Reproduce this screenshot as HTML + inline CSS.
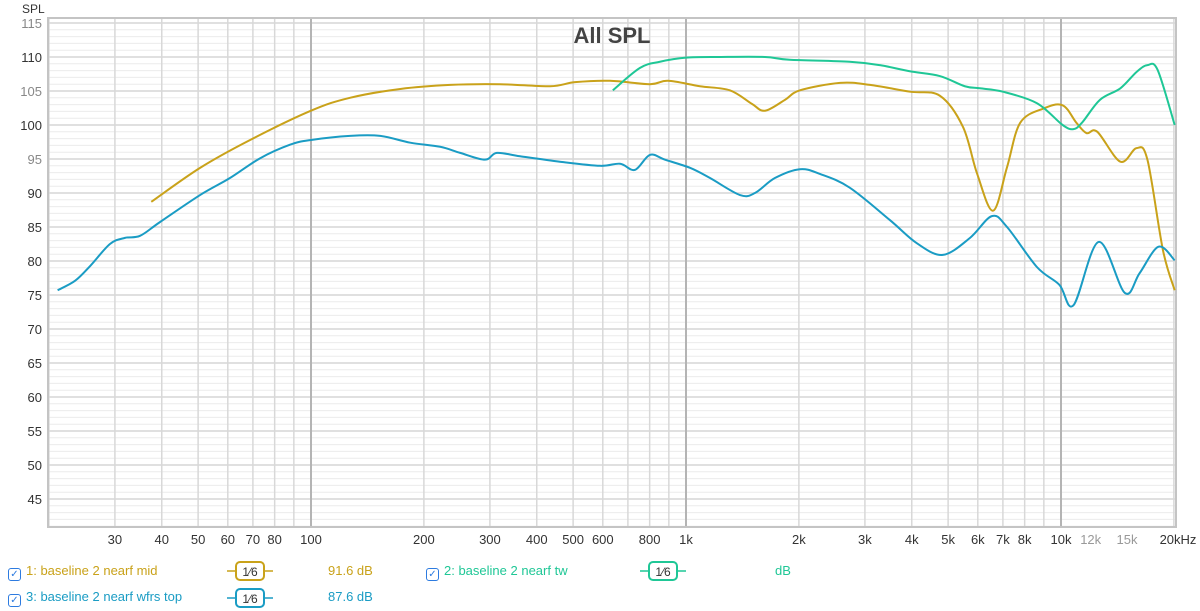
<!DOCTYPE html>
<html><head><meta charset="utf-8"><style>
body{margin:0;background:#fff;font-family:"Liberation Sans",sans-serif;}
#wrap{position:relative;width:1200px;height:611px;overflow:hidden}
.leg{position:absolute;font-size:13px;white-space:nowrap}
.cb{display:inline-block;width:11px;height:11px;border:1.5px solid #2d7be0;border-radius:3px;vertical-align:-2px;margin-right:5px;font-size:10px;line-height:11px;text-align:center;color:#2d7be0}
</style></head><body><div id="wrap">
<svg id="chart" width="1200" height="611" style="position:absolute;left:0;top:0"></svg>
</div>
<script>
const xTickLabels=["30","40","50","60","70","80","100","200","300","400","500","600","800","1k","2k","3k","4k","5k","6k","7k","8k","10k","12k","15k","20kHz"];
const xTickFreqs=[30,40,50,60,70,80,100,200,300,400,500,600,800,1000,2000,3000,4000,5000,6000,7000,8000,10000,12000,15000,20000];
const yTickValues=[115,110,105,100,95,90,85,80,75,70,65,60,55,50,45];
const midFreq=[37.5,50.6,68.8,100,127,173,235,319,434,506,627,801,895,1089,1309,1499,1624,1836,2013,2575,3097,3954,4753,5480,5970,6590,7180,7780,8960,10100,11000,11700,12500,14400,15900,17000,18700,20100];
const midDb=[88.7,93.7,97.8,102.1,104.0,105.3,105.9,106.0,105.7,106.3,106.5,106.0,106.5,105.7,105.1,103.1,102.1,103.7,105.1,106.2,105.9,104.9,104.3,99.7,92.9,87.4,93.8,100.3,102.4,102.9,100.3,98.8,99.0,94.6,96.6,94.9,81.6,75.7];
const twFreq=[638,754,852,1000,1232,1624,1890,2730,3290,3950,4750,5540,6080,7000,8630,10100,10800,11400,12700,14400,15900,17000,18100,20100];
const twDb=[105.1,108.4,109.3,109.9,110.0,110.0,109.6,109.3,108.8,107.9,107.2,105.7,105.4,104.9,103.2,100.0,99.4,100.4,103.7,105.4,107.8,108.8,108.1,100.0];
const wfFreq=[21.1,23.5,25.8,29.1,31.9,35.0,39.5,50.6,60.8,73.1,87.9,100,127,153,184,221,250,291,313,361,461,590,667,731,801,879,1025,1159,1393,1527,1726,2013,2276,2730,3500,4130,4840,5720,6540,7180,8630,9900,10800,12600,14800,16200,18200,20100];
const wfDb=[75.7,77.1,79.3,82.5,83.4,83.7,85.7,89.7,92.2,95.1,97.1,97.8,98.4,98.4,97.4,96.8,95.9,94.9,95.9,95.4,94.6,94.0,94.3,93.4,95.6,94.9,93.7,92.2,89.7,90.0,92.2,93.5,92.8,90.8,86.0,82.6,80.9,83.4,86.6,85.0,79.1,76.5,73.5,82.8,75.3,78.2,82.1,80.1];
const L=48,R=1176,T=18,B=527;
const x=f=>686+375*Math.log10(f/1000);
const y=d=>125-(d-100)*6.8;
const NS="http://www.w3.org/2000/svg";
const svg=document.getElementById('chart');
function mk(t,a,p){const e=document.createElementNS(NS,t);for(const k in a)e.setAttribute(k,a[k]);(p||svg).appendChild(e);return e;}
// grid
const grid=mk('g',{});


for(let d=41;d<=116;d++){if(y(d)<T||y(d)>B)continue;const maj=d%5===0;
 mk('line',{x1:L,x2:R,y1:y(d),y2:y(d),stroke:maj?'#d6d6d6':'#ececec','stroke-width':maj?1.5:1},grid);}
const vf=[];for(const dec of [10,100,1000,10000])for(let i=1;i<10;i++){const f=dec*i;if(f>=20&&f<=20000)vf.push(f);}
vf.forEach(f=>{const maj=[100,1000,10000].includes(f);mk('line',{x1:x(f),x2:x(f),y1:T,y2:B,stroke:maj?'#b4b4b4':'#d8d8d8','stroke-width':maj?2:1.5},grid);});
mk('rect',{x:L,y:T,width:R-L,height:B-T,fill:'none',stroke:'#c4c4c4','stroke-width':2},grid);
// y labels
yTickValues.forEach(v=>{const t=mk('text',{x:42,y:y(v)+5,'text-anchor':'end','font-size':13,fill:(v%10===5&&v>=95)?'#888':'#333'});t.textContent=v;
 
 });
const yt=mk('text',{x:22,y:13,'font-size':12,fill:'#333'});yt.textContent='SPL';


xTickLabels.forEach((s,i)=>{const f=xTickFreqs[i];const last=i===xTickLabels.length-1;
 const t=mk('text',{x:last?1178:x(f),y:544,'text-anchor':last?'middle':'middle','font-size':13,fill:(s==='12k'||s==='15k')?'#999':'#333'});t.textContent=s;
 
 });
const ti=mk('text',{x:612,y:43,'text-anchor':'middle','font-size':22,'font-weight':'bold',fill:'#444'});ti.textContent='All SPL';


function path(fs,ds){const p=fs.map((f,i)=>[x(f),y(ds[i])]);let d='M'+p[0][0]+','+p[0][1];
 for(let i=0;i<p.length-1;i++){const p0=p[i-1]||p[i],p1=p[i],p2=p[i+1],p3=p[i+2]||p2;
 d+=` C${p1[0]+(p2[0]-p0[0])/6},${p1[1]+(p2[1]-p0[1])/6} ${p2[0]-(p3[0]-p1[0])/6},${p2[1]-(p3[1]-p1[1])/6} ${p2[0]},${p2[1]}`;}return d;}
const s1=mk('path',{d:path(midFreq,midDb),fill:'none',stroke:'#c9a21a','stroke-width':2});


const s2=mk('path',{d:path(twFreq,twDb),fill:'none',stroke:'#1fc796','stroke-width':2});


const s3=mk('path',{d:path(wfFreq,wfDb),fill:'none',stroke:'#1a9cc4','stroke-width':2});


// legend
function sm(px,py,c){const g=mk('g',{});
 
 
 mk('line',{x1:px,x2:px+46,y1:py,y2:py,stroke:c,'stroke-width':1.5},g);
 mk('rect',{x:px+9,y:py-9,width:28,height:18,rx:4,fill:'#fff',stroke:c,'stroke-width':2},g);
 const t=mk('text',{x:px+23,y:py+5,'text-anchor':'middle','font-size':12,fill:'#333'},g);t.textContent='1⁄6';}
sm(227,571,'#c9a21a');sm(640,571,'#1fc796');sm(227,598,'#1a9cc4');
</script>
<div class="leg" style="left:8px;top:563px;color:#c9a21a"><span class="cb">✓</span>1: baseline 2 nearf mid</div>
<div class="leg" style="left:328px;top:563px;color:#c9a21a">91.6 dB</div>
<div class="leg" style="left:426px;top:563px;color:#1fc796"><span class="cb">✓</span>2: baseline 2 nearf tw</div>
<div class="leg" style="left:775px;top:563px;color:#1fc796">dB</div>
<div class="leg" style="left:8px;top:589px;color:#1a9cc4"><span class="cb">✓</span>3: baseline 2 nearf wfrs top</div>
<div class="leg" style="left:328px;top:589px;color:#1a9cc4">87.6 dB</div>
</body></html>
